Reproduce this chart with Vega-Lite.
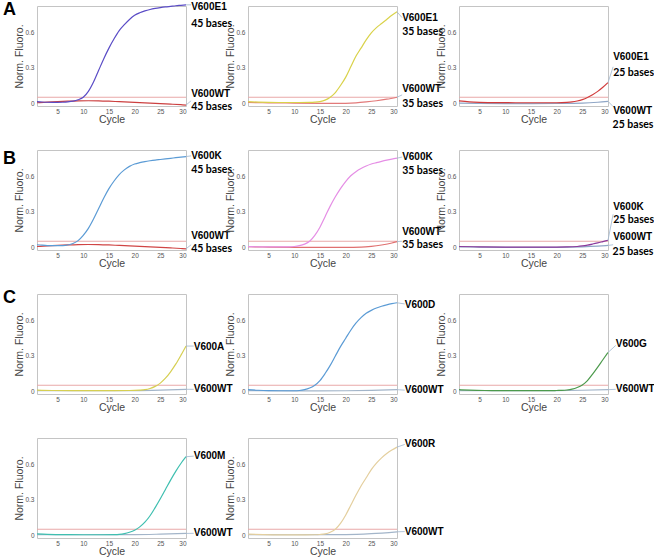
{
"$schema": "https://vega.github.io/schema/vega-lite/v6.json",
"background": "white",
"padding": {"left": 2, "top": 0, "right": 0, "bottom": 0},
"columns": 3,
"spacing": {"row": 44, "column": 62},
"bounds": "flush",
"resolve": {"scale": {"color": "shared"}},
"config": {
 "view": {"stroke": "#c4c4c4", "strokeWidth": 1},
 "axis": {"grid": false, "domain": false, "ticks": false, "labelFont": "Liberation Sans", "labelFontSize": 6.5, "labelColor": "#555", "labelPadding": 3, "titleFont": "Liberation Sans", "titleFontSize": 10.5, "titleFontWeight": "normal", "titleColor": "#444"},
 "axisY": {"titlePadding": 0},
 "axisX": {"labelPadding": 2, "titlePadding": 0},
 "line": {"strokeWidth": 1.2, "interpolate": "monotone"},
 "text": {"align": "left", "baseline": "middle", "color": "#000", "dx": 0}
},
"datasets": {"d": [
{"p":"A1","k":"line","c":"thr","x":1,"y":0.05},{"p":"A1","k":"line","c":"thr","x":30,"y":0.05},
{"p":"A2","k":"line","c":"thr","x":1,"y":0.05},{"p":"A2","k":"line","c":"thr","x":30,"y":0.05},
{"p":"A3","k":"line","c":"thr","x":1,"y":0.05},{"p":"A3","k":"line","c":"thr","x":30,"y":0.05},
{"p":"B1","k":"line","c":"thr","x":1,"y":0.05},{"p":"B1","k":"line","c":"thr","x":30,"y":0.05},
{"p":"B2","k":"line","c":"thr","x":1,"y":0.05},{"p":"B2","k":"line","c":"thr","x":30,"y":0.05},
{"p":"B3","k":"line","c":"thr","x":1,"y":0.05},{"p":"B3","k":"line","c":"thr","x":30,"y":0.05},
{"p":"C1","k":"line","c":"thr","x":1,"y":0.05},{"p":"C1","k":"line","c":"thr","x":30,"y":0.05},
{"p":"C2","k":"line","c":"thr","x":1,"y":0.05},{"p":"C2","k":"line","c":"thr","x":30,"y":0.05},
{"p":"C3","k":"line","c":"thr","x":1,"y":0.05},{"p":"C3","k":"line","c":"thr","x":30,"y":0.05},
{"p":"D1","k":"line","c":"thr","x":1,"y":0.05},{"p":"D1","k":"line","c":"thr","x":30,"y":0.05},
{"p":"D2","k":"line","c":"thr","x":1,"y":0.05},{"p":"D2","k":"line","c":"thr","x":30,"y":0.05},

{"p":"A1","k":"line","c":"A1w","x":1,"y":0.003},{"p":"A1","k":"line","c":"A1w","x":3,"y":0.008},{"p":"A1","k":"line","c":"A1w","x":5,"y":0.012},{"p":"A1","k":"line","c":"A1w","x":7,"y":0.016},{"p":"A1","k":"line","c":"A1w","x":9,"y":0.019},{"p":"A1","k":"line","c":"A1w","x":11,"y":0.02},{"p":"A1","k":"line","c":"A1w","x":13,"y":0.019},{"p":"A1","k":"line","c":"A1w","x":15,"y":0.016},{"p":"A1","k":"line","c":"A1w","x":17,"y":0.012},{"p":"A1","k":"line","c":"A1w","x":19,"y":0.008},{"p":"A1","k":"line","c":"A1w","x":21,"y":0.004},{"p":"A1","k":"line","c":"A1w","x":23,"y":0.0},{"p":"A1","k":"line","c":"A1w","x":25,"y":-0.004},{"p":"A1","k":"line","c":"A1w","x":27,"y":-0.009},{"p":"A1","k":"line","c":"A1w","x":29,"y":-0.014},{"p":"A1","k":"line","c":"A1w","x":30,"y":-0.017},
{"p":"A1","k":"line","c":"A1m","x":1,"y":0.012},{"p":"A1","k":"line","c":"A1m","x":2,"y":0.009},{"p":"A1","k":"line","c":"A1m","x":3,"y":0.007},{"p":"A1","k":"line","c":"A1m","x":4,"y":0.006},{"p":"A1","k":"line","c":"A1m","x":5,"y":0.006},{"p":"A1","k":"line","c":"A1m","x":6,"y":0.007},{"p":"A1","k":"line","c":"A1m","x":7,"y":0.01},{"p":"A1","k":"line","c":"A1m","x":8,"y":0.016},{"p":"A1","k":"line","c":"A1m","x":9,"y":0.028},{"p":"A1","k":"line","c":"A1m","x":10,"y":0.05},{"p":"A1","k":"line","c":"A1m","x":11,"y":0.1},{"p":"A1","k":"line","c":"A1m","x":12,"y":0.18},{"p":"A1","k":"line","c":"A1m","x":13,"y":0.28},{"p":"A1","k":"line","c":"A1m","x":14,"y":0.38},{"p":"A1","k":"line","c":"A1m","x":15,"y":0.47},{"p":"A1","k":"line","c":"A1m","x":16,"y":0.55},{"p":"A1","k":"line","c":"A1m","x":17,"y":0.62},{"p":"A1","k":"line","c":"A1m","x":18,"y":0.67},{"p":"A1","k":"line","c":"A1m","x":19,"y":0.715},{"p":"A1","k":"line","c":"A1m","x":20,"y":0.75},{"p":"A1","k":"line","c":"A1m","x":21,"y":0.772},{"p":"A1","k":"line","c":"A1m","x":22,"y":0.788},{"p":"A1","k":"line","c":"A1m","x":23,"y":0.8},{"p":"A1","k":"line","c":"A1m","x":24,"y":0.809},{"p":"A1","k":"line","c":"A1m","x":25,"y":0.816},{"p":"A1","k":"line","c":"A1m","x":26,"y":0.822},{"p":"A1","k":"line","c":"A1m","x":27,"y":0.827},{"p":"A1","k":"line","c":"A1m","x":28,"y":0.832},{"p":"A1","k":"line","c":"A1m","x":29,"y":0.836},{"p":"A1","k":"line","c":"A1m","x":30,"y":0.84},

{"p":"A2","k":"line","c":"A2w","x":1,"y":0.005},{"p":"A2","k":"line","c":"A2w","x":5,"y":0.002},{"p":"A2","k":"line","c":"A2w","x":10,"y":0.0},{"p":"A2","k":"line","c":"A2w","x":15,"y":-0.002},{"p":"A2","k":"line","c":"A2w","x":18,"y":-0.003},{"p":"A2","k":"line","c":"A2w","x":20,"y":-0.002},{"p":"A2","k":"line","c":"A2w","x":22,"y":0.002},{"p":"A2","k":"line","c":"A2w","x":24,"y":0.01},{"p":"A2","k":"line","c":"A2w","x":26,"y":0.02},{"p":"A2","k":"line","c":"A2w","x":28,"y":0.033},{"p":"A2","k":"line","c":"A2w","x":30,"y":0.05},
{"p":"A2","k":"line","c":"A2m","x":1,"y":0.012},{"p":"A2","k":"line","c":"A2m","x":3,"y":0.008},{"p":"A2","k":"line","c":"A2m","x":5,"y":0.006},{"p":"A2","k":"line","c":"A2m","x":7,"y":0.005},{"p":"A2","k":"line","c":"A2m","x":9,"y":0.005},{"p":"A2","k":"line","c":"A2m","x":11,"y":0.005},{"p":"A2","k":"line","c":"A2m","x":13,"y":0.006},{"p":"A2","k":"line","c":"A2m","x":14,"y":0.008},{"p":"A2","k":"line","c":"A2m","x":15,"y":0.013},{"p":"A2","k":"line","c":"A2m","x":16,"y":0.025},{"p":"A2","k":"line","c":"A2m","x":17,"y":0.05},{"p":"A2","k":"line","c":"A2m","x":18,"y":0.09},{"p":"A2","k":"line","c":"A2m","x":19,"y":0.15},{"p":"A2","k":"line","c":"A2m","x":20,"y":0.22},{"p":"A2","k":"line","c":"A2m","x":21,"y":0.31},{"p":"A2","k":"line","c":"A2m","x":22,"y":0.4},{"p":"A2","k":"line","c":"A2m","x":23,"y":0.47},{"p":"A2","k":"line","c":"A2m","x":24,"y":0.54},{"p":"A2","k":"line","c":"A2m","x":25,"y":0.6},{"p":"A2","k":"line","c":"A2m","x":26,"y":0.645},{"p":"A2","k":"line","c":"A2m","x":27,"y":0.68},{"p":"A2","k":"line","c":"A2m","x":28,"y":0.715},{"p":"A2","k":"line","c":"A2m","x":29,"y":0.75},{"p":"A2","k":"line","c":"A2m","x":30,"y":0.78},

{"p":"A3","k":"line","c":"A3w","x":1,"y":0.0},{"p":"A3","k":"line","c":"A3w","x":5,"y":-0.003},{"p":"A3","k":"line","c":"A3w","x":10,"y":-0.004},{"p":"A3","k":"line","c":"A3w","x":15,"y":-0.004},{"p":"A3","k":"line","c":"A3w","x":20,"y":-0.003},{"p":"A3","k":"line","c":"A3w","x":25,"y":0.0},{"p":"A3","k":"line","c":"A3w","x":28,"y":0.007},{"p":"A3","k":"line","c":"A3w","x":30,"y":0.015},
{"p":"A3","k":"line","c":"A3m","x":1,"y":0.018},{"p":"A3","k":"line","c":"A3m","x":3,"y":0.01},{"p":"A3","k":"line","c":"A3m","x":5,"y":0.006},{"p":"A3","k":"line","c":"A3m","x":8,"y":0.004},{"p":"A3","k":"line","c":"A3m","x":12,"y":0.003},{"p":"A3","k":"line","c":"A3m","x":16,"y":0.003},{"p":"A3","k":"line","c":"A3m","x":20,"y":0.003},{"p":"A3","k":"line","c":"A3m","x":21,"y":0.004},{"p":"A3","k":"line","c":"A3m","x":22,"y":0.006},{"p":"A3","k":"line","c":"A3m","x":23,"y":0.01},{"p":"A3","k":"line","c":"A3m","x":24,"y":0.018},{"p":"A3","k":"line","c":"A3m","x":25,"y":0.03},{"p":"A3","k":"line","c":"A3m","x":26,"y":0.048},{"p":"A3","k":"line","c":"A3m","x":27,"y":0.072},{"p":"A3","k":"line","c":"A3m","x":28,"y":0.1},{"p":"A3","k":"line","c":"A3m","x":29,"y":0.135},{"p":"A3","k":"line","c":"A3m","x":30,"y":0.175},

{"p":"B1","k":"line","c":"B1w","x":1,"y":0.005},{"p":"B1","k":"line","c":"B1w","x":3,"y":0.01},{"p":"B1","k":"line","c":"B1w","x":5,"y":0.014},{"p":"B1","k":"line","c":"B1w","x":7,"y":0.018},{"p":"B1","k":"line","c":"B1w","x":9,"y":0.021},{"p":"B1","k":"line","c":"B1w","x":11,"y":0.022},{"p":"B1","k":"line","c":"B1w","x":13,"y":0.021},{"p":"B1","k":"line","c":"B1w","x":15,"y":0.018},{"p":"B1","k":"line","c":"B1w","x":17,"y":0.014},{"p":"B1","k":"line","c":"B1w","x":19,"y":0.01},{"p":"B1","k":"line","c":"B1w","x":21,"y":0.006},{"p":"B1","k":"line","c":"B1w","x":23,"y":0.002},{"p":"B1","k":"line","c":"B1w","x":25,"y":-0.002},{"p":"B1","k":"line","c":"B1w","x":27,"y":-0.007},{"p":"B1","k":"line","c":"B1w","x":29,"y":-0.012},{"p":"B1","k":"line","c":"B1w","x":30,"y":-0.015},
{"p":"B1","k":"line","c":"B1m","x":1,"y":0.02},{"p":"B1","k":"line","c":"B1m","x":2,"y":0.016},{"p":"B1","k":"line","c":"B1m","x":3,"y":0.013},{"p":"B1","k":"line","c":"B1m","x":4,"y":0.012},{"p":"B1","k":"line","c":"B1m","x":5,"y":0.012},{"p":"B1","k":"line","c":"B1m","x":6,"y":0.013},{"p":"B1","k":"line","c":"B1m","x":7,"y":0.018},{"p":"B1","k":"line","c":"B1m","x":8,"y":0.03},{"p":"B1","k":"line","c":"B1m","x":9,"y":0.055},{"p":"B1","k":"line","c":"B1m","x":10,"y":0.1},{"p":"B1","k":"line","c":"B1m","x":11,"y":0.16},{"p":"B1","k":"line","c":"B1m","x":12,"y":0.24},{"p":"B1","k":"line","c":"B1m","x":13,"y":0.33},{"p":"B1","k":"line","c":"B1m","x":14,"y":0.42},{"p":"B1","k":"line","c":"B1m","x":15,"y":0.5},{"p":"B1","k":"line","c":"B1m","x":16,"y":0.565},{"p":"B1","k":"line","c":"B1m","x":17,"y":0.62},{"p":"B1","k":"line","c":"B1m","x":18,"y":0.66},{"p":"B1","k":"line","c":"B1m","x":19,"y":0.69},{"p":"B1","k":"line","c":"B1m","x":20,"y":0.71},{"p":"B1","k":"line","c":"B1m","x":21,"y":0.722},{"p":"B1","k":"line","c":"B1m","x":22,"y":0.731},{"p":"B1","k":"line","c":"B1m","x":23,"y":0.738},{"p":"B1","k":"line","c":"B1m","x":24,"y":0.744},{"p":"B1","k":"line","c":"B1m","x":25,"y":0.749},{"p":"B1","k":"line","c":"B1m","x":26,"y":0.754},{"p":"B1","k":"line","c":"B1m","x":27,"y":0.759},{"p":"B1","k":"line","c":"B1m","x":28,"y":0.764},{"p":"B1","k":"line","c":"B1m","x":29,"y":0.769},{"p":"B1","k":"line","c":"B1m","x":30,"y":0.774},

{"p":"B2","k":"line","c":"B2w","x":1,"y":0.003},{"p":"B2","k":"line","c":"B2w","x":5,"y":0.0},{"p":"B2","k":"line","c":"B2w","x":10,"y":-0.002},{"p":"B2","k":"line","c":"B2w","x":15,"y":-0.003},{"p":"B2","k":"line","c":"B2w","x":20,"y":-0.003},{"p":"B2","k":"line","c":"B2w","x":23,"y":-0.001},{"p":"B2","k":"line","c":"B2w","x":25,"y":0.006},{"p":"B2","k":"line","c":"B2w","x":27,"y":0.018},{"p":"B2","k":"line","c":"B2w","x":29,"y":0.035},{"p":"B2","k":"line","c":"B2w","x":30,"y":0.047},
{"p":"B2","k":"line","c":"B2m","x":1,"y":0.004},{"p":"B2","k":"line","c":"B2m","x":3,"y":0.002},{"p":"B2","k":"line","c":"B2m","x":5,"y":0.001},{"p":"B2","k":"line","c":"B2m","x":7,"y":0.001},{"p":"B2","k":"line","c":"B2m","x":9,"y":0.002},{"p":"B2","k":"line","c":"B2m","x":10,"y":0.005},{"p":"B2","k":"line","c":"B2m","x":11,"y":0.012},{"p":"B2","k":"line","c":"B2m","x":12,"y":0.025},{"p":"B2","k":"line","c":"B2m","x":13,"y":0.05},{"p":"B2","k":"line","c":"B2m","x":14,"y":0.1},{"p":"B2","k":"line","c":"B2m","x":15,"y":0.17},{"p":"B2","k":"line","c":"B2m","x":16,"y":0.26},{"p":"B2","k":"line","c":"B2m","x":17,"y":0.35},{"p":"B2","k":"line","c":"B2m","x":18,"y":0.43},{"p":"B2","k":"line","c":"B2m","x":19,"y":0.5},{"p":"B2","k":"line","c":"B2m","x":20,"y":0.56},{"p":"B2","k":"line","c":"B2m","x":21,"y":0.61},{"p":"B2","k":"line","c":"B2m","x":22,"y":0.645},{"p":"B2","k":"line","c":"B2m","x":23,"y":0.672},{"p":"B2","k":"line","c":"B2m","x":24,"y":0.693},{"p":"B2","k":"line","c":"B2m","x":25,"y":0.71},{"p":"B2","k":"line","c":"B2m","x":26,"y":0.722},{"p":"B2","k":"line","c":"B2m","x":27,"y":0.733},{"p":"B2","k":"line","c":"B2m","x":28,"y":0.743},{"p":"B2","k":"line","c":"B2m","x":29,"y":0.752},{"p":"B2","k":"line","c":"B2m","x":30,"y":0.76},

{"p":"B3","k":"line","c":"B3w","x":1,"y":0.002},{"p":"B3","k":"line","c":"B3w","x":5,"y":0.0},{"p":"B3","k":"line","c":"B3w","x":10,"y":-0.002},{"p":"B3","k":"line","c":"B3w","x":15,"y":-0.002},{"p":"B3","k":"line","c":"B3w","x":20,"y":-0.002},{"p":"B3","k":"line","c":"B3w","x":25,"y":0.002},{"p":"B3","k":"line","c":"B3w","x":28,"y":0.008},{"p":"B3","k":"line","c":"B3w","x":30,"y":0.014},
{"p":"B3","k":"line","c":"B3m","x":1,"y":0.005},{"p":"B3","k":"line","c":"B3m","x":5,"y":0.002},{"p":"B3","k":"line","c":"B3m","x":10,"y":0.0},{"p":"B3","k":"line","c":"B3m","x":15,"y":0.0},{"p":"B3","k":"line","c":"B3m","x":20,"y":0.0},{"p":"B3","k":"line","c":"B3m","x":22,"y":0.001},{"p":"B3","k":"line","c":"B3m","x":24,"y":0.005},{"p":"B3","k":"line","c":"B3m","x":25,"y":0.01},{"p":"B3","k":"line","c":"B3m","x":26,"y":0.017},{"p":"B3","k":"line","c":"B3m","x":27,"y":0.026},{"p":"B3","k":"line","c":"B3m","x":28,"y":0.036},{"p":"B3","k":"line","c":"B3m","x":29,"y":0.047},{"p":"B3","k":"line","c":"B3m","x":30,"y":0.058},

{"p":"C1","k":"line","c":"C1w","x":1,"y":0.004},{"p":"C1","k":"line","c":"C1w","x":10,"y":0.003},{"p":"C1","k":"line","c":"C1w","x":20,"y":0.004},{"p":"C1","k":"line","c":"C1w","x":25,"y":0.008},{"p":"C1","k":"line","c":"C1w","x":30,"y":0.015},
{"p":"C1","k":"line","c":"C1m","x":1,"y":0.008},{"p":"C1","k":"line","c":"C1m","x":4,"y":0.005},{"p":"C1","k":"line","c":"C1m","x":8,"y":0.004},{"p":"C1","k":"line","c":"C1m","x":12,"y":0.004},{"p":"C1","k":"line","c":"C1m","x":16,"y":0.004},{"p":"C1","k":"line","c":"C1m","x":19,"y":0.005},{"p":"C1","k":"line","c":"C1m","x":20,"y":0.006},{"p":"C1","k":"line","c":"C1m","x":21,"y":0.008},{"p":"C1","k":"line","c":"C1m","x":22,"y":0.012},{"p":"C1","k":"line","c":"C1m","x":23,"y":0.022},{"p":"C1","k":"line","c":"C1m","x":24,"y":0.04},{"p":"C1","k":"line","c":"C1m","x":25,"y":0.068},{"p":"C1","k":"line","c":"C1m","x":26,"y":0.11},{"p":"C1","k":"line","c":"C1m","x":27,"y":0.165},{"p":"C1","k":"line","c":"C1m","x":28,"y":0.23},{"p":"C1","k":"line","c":"C1m","x":29,"y":0.305},{"p":"C1","k":"line","c":"C1m","x":30,"y":0.385},

{"p":"C2","k":"line","c":"C2w","x":1,"y":0.004},{"p":"C2","k":"line","c":"C2w","x":10,"y":0.002},{"p":"C2","k":"line","c":"C2w","x":20,"y":0.003},{"p":"C2","k":"line","c":"C2w","x":25,"y":0.006},{"p":"C2","k":"line","c":"C2w","x":30,"y":0.012},
{"p":"C2","k":"line","c":"C2m","x":1,"y":0.012},{"p":"C2","k":"line","c":"C2m","x":3,"y":0.007},{"p":"C2","k":"line","c":"C2m","x":5,"y":0.004},{"p":"C2","k":"line","c":"C2m","x":7,"y":0.003},{"p":"C2","k":"line","c":"C2m","x":10,"y":0.003},{"p":"C2","k":"line","c":"C2m","x":11,"y":0.005},{"p":"C2","k":"line","c":"C2m","x":12,"y":0.012},{"p":"C2","k":"line","c":"C2m","x":13,"y":0.026},{"p":"C2","k":"line","c":"C2m","x":14,"y":0.05},{"p":"C2","k":"line","c":"C2m","x":15,"y":0.09},{"p":"C2","k":"line","c":"C2m","x":16,"y":0.15},{"p":"C2","k":"line","c":"C2m","x":17,"y":0.22},{"p":"C2","k":"line","c":"C2m","x":18,"y":0.3},{"p":"C2","k":"line","c":"C2m","x":19,"y":0.38},{"p":"C2","k":"line","c":"C2m","x":20,"y":0.45},{"p":"C2","k":"line","c":"C2m","x":21,"y":0.52},{"p":"C2","k":"line","c":"C2m","x":22,"y":0.58},{"p":"C2","k":"line","c":"C2m","x":23,"y":0.628},{"p":"C2","k":"line","c":"C2m","x":24,"y":0.665},{"p":"C2","k":"line","c":"C2m","x":25,"y":0.69},{"p":"C2","k":"line","c":"C2m","x":26,"y":0.71},{"p":"C2","k":"line","c":"C2m","x":27,"y":0.725},{"p":"C2","k":"line","c":"C2m","x":28,"y":0.737},{"p":"C2","k":"line","c":"C2m","x":29,"y":0.747},{"p":"C2","k":"line","c":"C2m","x":30,"y":0.755},

{"p":"C3","k":"line","c":"C3w","x":1,"y":0.004},{"p":"C3","k":"line","c":"C3w","x":10,"y":0.003},{"p":"C3","k":"line","c":"C3w","x":20,"y":0.004},{"p":"C3","k":"line","c":"C3w","x":25,"y":0.007},{"p":"C3","k":"line","c":"C3w","x":30,"y":0.012},
{"p":"C3","k":"line","c":"C3m","x":1,"y":0.012},{"p":"C3","k":"line","c":"C3m","x":3,"y":0.008},{"p":"C3","k":"line","c":"C3m","x":6,"y":0.005},{"p":"C3","k":"line","c":"C3m","x":10,"y":0.004},{"p":"C3","k":"line","c":"C3m","x":15,"y":0.004},{"p":"C3","k":"line","c":"C3m","x":19,"y":0.004},{"p":"C3","k":"line","c":"C3m","x":20,"y":0.005},{"p":"C3","k":"line","c":"C3m","x":21,"y":0.006},{"p":"C3","k":"line","c":"C3m","x":22,"y":0.009},{"p":"C3","k":"line","c":"C3m","x":23,"y":0.016},{"p":"C3","k":"line","c":"C3m","x":24,"y":0.03},{"p":"C3","k":"line","c":"C3m","x":25,"y":0.052},{"p":"C3","k":"line","c":"C3m","x":26,"y":0.09},{"p":"C3","k":"line","c":"C3m","x":27,"y":0.145},{"p":"C3","k":"line","c":"C3m","x":28,"y":0.205},{"p":"C3","k":"line","c":"C3m","x":29,"y":0.268},{"p":"C3","k":"line","c":"C3m","x":30,"y":0.33},

{"p":"D1","k":"line","c":"D1w","x":1,"y":0.004},{"p":"D1","k":"line","c":"D1w","x":10,"y":0.003},{"p":"D1","k":"line","c":"D1w","x":20,"y":0.004},{"p":"D1","k":"line","c":"D1w","x":25,"y":0.008},{"p":"D1","k":"line","c":"D1w","x":30,"y":0.014},
{"p":"D1","k":"line","c":"D1m","x":1,"y":0.01},{"p":"D1","k":"line","c":"D1m","x":3,"y":0.006},{"p":"D1","k":"line","c":"D1m","x":6,"y":0.004},{"p":"D1","k":"line","c":"D1m","x":10,"y":0.003},{"p":"D1","k":"line","c":"D1m","x":14,"y":0.003},{"p":"D1","k":"line","c":"D1m","x":16,"y":0.004},{"p":"D1","k":"line","c":"D1m","x":17,"y":0.006},{"p":"D1","k":"line","c":"D1m","x":18,"y":0.012},{"p":"D1","k":"line","c":"D1m","x":19,"y":0.024},{"p":"D1","k":"line","c":"D1m","x":20,"y":0.042},{"p":"D1","k":"line","c":"D1m","x":21,"y":0.07},{"p":"D1","k":"line","c":"D1m","x":22,"y":0.11},{"p":"D1","k":"line","c":"D1m","x":23,"y":0.165},{"p":"D1","k":"line","c":"D1m","x":24,"y":0.235},{"p":"D1","k":"line","c":"D1m","x":25,"y":0.31},{"p":"D1","k":"line","c":"D1m","x":26,"y":0.39},{"p":"D1","k":"line","c":"D1m","x":27,"y":0.47},{"p":"D1","k":"line","c":"D1m","x":28,"y":0.545},{"p":"D1","k":"line","c":"D1m","x":29,"y":0.612},{"p":"D1","k":"line","c":"D1m","x":30,"y":0.67},

{"p":"D2","k":"line","c":"D2w","x":1,"y":0.004},{"p":"D2","k":"line","c":"D2w","x":10,"y":0.003},{"p":"D2","k":"line","c":"D2w","x":20,"y":0.004},{"p":"D2","k":"line","c":"D2w","x":25,"y":0.012},{"p":"D2","k":"line","c":"D2w","x":30,"y":0.028},
{"p":"D2","k":"line","c":"D2m","x":1,"y":0.008},{"p":"D2","k":"line","c":"D2m","x":4,"y":0.004},{"p":"D2","k":"line","c":"D2m","x":8,"y":0.002},{"p":"D2","k":"line","c":"D2m","x":12,"y":0.002},{"p":"D2","k":"line","c":"D2m","x":14,"y":0.003},{"p":"D2","k":"line","c":"D2m","x":15,"y":0.005},{"p":"D2","k":"line","c":"D2m","x":16,"y":0.01},{"p":"D2","k":"line","c":"D2m","x":17,"y":0.024},{"p":"D2","k":"line","c":"D2m","x":18,"y":0.05},{"p":"D2","k":"line","c":"D2m","x":19,"y":0.1},{"p":"D2","k":"line","c":"D2m","x":20,"y":0.17},{"p":"D2","k":"line","c":"D2m","x":21,"y":0.255},{"p":"D2","k":"line","c":"D2m","x":22,"y":0.34},{"p":"D2","k":"line","c":"D2m","x":23,"y":0.42},{"p":"D2","k":"line","c":"D2m","x":24,"y":0.49},{"p":"D2","k":"line","c":"D2m","x":25,"y":0.56},{"p":"D2","k":"line","c":"D2m","x":26,"y":0.615},{"p":"D2","k":"line","c":"D2m","x":27,"y":0.66},{"p":"D2","k":"line","c":"D2m","x":28,"y":0.697},{"p":"D2","k":"line","c":"D2m","x":29,"y":0.727},{"p":"D2","k":"line","c":"D2m","x":30,"y":0.752},

{"p":"A1","k":"lead","c":"a","x":30,"y":0.84},{"p":"A1","k":"lead","c":"a","x":31,"y":0.84},{"p":"A1","k":"lead","c":"b","x":30,"y":-0.017},{"p":"A1","k":"lead","c":"b","x":31,"y":0.02},
{"p":"A2","k":"lead","c":"a","x":30,"y":0.78},{"p":"A2","k":"lead","c":"a","x":31,"y":0.73},{"p":"A2","k":"lead","c":"b","x":30,"y":0.05},{"p":"A2","k":"lead","c":"b","x":31,"y":0.07},
{"p":"A3","k":"lead","c":"a","x":30,"y":0.175},{"p":"A3","k":"lead","c":"a","x":31,"y":0.31},{"p":"A3","k":"lead","c":"b","x":30,"y":0.015},{"p":"A3","k":"lead","c":"b","x":31,"y":-0.03},
{"p":"B1","k":"lead","c":"a","x":30,"y":0.774},{"p":"B1","k":"lead","c":"a","x":31,"y":0.78},{"p":"B1","k":"lead","c":"b","x":30,"y":-0.015},{"p":"B1","k":"lead","c":"b","x":31,"y":0.02},
{"p":"B2","k":"lead","c":"a","x":30,"y":0.76},{"p":"B2","k":"lead","c":"a","x":31,"y":0.77},{"p":"B2","k":"lead","c":"b","x":30,"y":0.047},{"p":"B2","k":"lead","c":"b","x":31,"y":0.05},
{"p":"B3","k":"lead","c":"a","x":30,"y":0.058},{"p":"B3","k":"lead","c":"a","x":31,"y":0.28},{"p":"B3","k":"lead","c":"b","x":30,"y":0.014},{"p":"B3","k":"lead","c":"b","x":31,"y":0.02},
{"p":"C1","k":"lead","c":"a","x":30,"y":0.385},{"p":"C1","k":"lead","c":"a","x":31.5,"y":0.385},{"p":"C1","k":"lead","c":"b","x":30,"y":0.015},{"p":"C1","k":"lead","c":"b","x":31.5,"y":0.015},
{"p":"C2","k":"lead","c":"a","x":30,"y":0.755},{"p":"C2","k":"lead","c":"a","x":31.5,"y":0.745},{"p":"C2","k":"lead","c":"b","x":30,"y":0.012},{"p":"C2","k":"lead","c":"b","x":31.5,"y":0.008},
{"p":"C3","k":"lead","c":"a","x":30,"y":0.33},{"p":"C3","k":"lead","c":"a","x":31.5,"y":0.39},{"p":"C3","k":"lead","c":"b","x":30,"y":0.012},{"p":"C3","k":"lead","c":"b","x":31.5,"y":0.015},
{"p":"D1","k":"lead","c":"a","x":30,"y":0.67},{"p":"D1","k":"lead","c":"a","x":31.5,"y":0.675},{"p":"D1","k":"lead","c":"b","x":30,"y":0.014},{"p":"D1","k":"lead","c":"b","x":31.5,"y":0.015},
{"p":"D2","k":"lead","c":"a","x":30,"y":0.752},{"p":"D2","k":"lead","c":"a","x":31.5,"y":0.775},{"p":"D2","k":"lead","c":"b","x":30,"y":0.028},{"p":"D2","k":"lead","c":"b","x":31.5,"y":0.03},

{"p":"A1","k":"name","x":31,"y":0.82,"t":"V600E1"},{"p":"A1","k":"bases","x":31,"y":0.68,"t":"45 bases"},{"p":"A1","k":"name","x":31,"y":0.08,"t":"V600WT"},{"p":"A1","k":"bases","x":31,"y":-0.036,"t":"45 bases"},
{"p":"A2","k":"name","x":31,"y":0.73,"t":"V600E1"},{"p":"A2","k":"bases","x":31,"y":0.61,"t":"35 bases"},{"p":"A2","k":"name","x":31,"y":0.12,"t":"V600WT"},{"p":"A2","k":"bases","x":31,"y":-0.01,"t":"35 bases"},
{"p":"A3","k":"name","x":31,"y":0.39,"t":"V600E1"},{"p":"A3","k":"bases","x":31,"y":0.26,"t":"25 bases"},{"p":"A3","k":"name","x":31,"y":-0.065,"t":"V600WT"},{"p":"A3","k":"bases","x":30.9,"y":-0.19,"t":"25 bases"},
{"p":"B1","k":"name","x":31,"y":0.78,"t":"V600K"},{"p":"B1","k":"bases","x":31,"y":0.66,"t":"45 bases"},{"p":"B1","k":"name","x":31,"y":0.093,"t":"V600WT"},{"p":"B1","k":"bases","x":31,"y":-0.02,"t":"45 bases"},
{"p":"B2","k":"name","x":31,"y":0.77,"t":"V600K"},{"p":"B2","k":"bases","x":31,"y":0.65,"t":"35 bases"},{"p":"B2","k":"name","x":31,"y":0.125,"t":"V600WT"},{"p":"B2","k":"bases","x":31,"y":0.014,"t":"35 bases"},
{"p":"B3","k":"name","x":31,"y":0.34,"t":"V600K"},{"p":"B3","k":"bases","x":31,"y":0.23,"t":"25 bases"},{"p":"B3","k":"name","x":31,"y":0.09,"t":"V600WT"},{"p":"B3","k":"bases","x":30.9,"y":-0.04,"t":"25 bases"},
{"p":"C1","k":"name","x":31.5,"y":0.38,"t":"V600A"},{"p":"C1","k":"name","x":31.5,"y":0.015,"t":"V600WT"},
{"p":"C2","k":"name","x":31.5,"y":0.74,"t":"V600D"},{"p":"C2","k":"name","x":31.5,"y":0.006,"t":"V600WT"},
{"p":"C3","k":"name","x":31.5,"y":0.4,"t":"V600G"},{"p":"C3","k":"name","x":31.5,"y":0.015,"t":"V600WT"},
{"p":"D1","k":"name","x":31.5,"y":0.675,"t":"V600M"},{"p":"D1","k":"name","x":31.5,"y":0.015,"t":"V600WT"},
{"p":"D2","k":"name","x":31.5,"y":0.775,"t":"V600R"},{"p":"D2","k":"name","x":31.5,"y":0.03,"t":"V600WT"}
]},
"concat": [
{"title": {"text": "A", "anchor": "start", "frame": "group", "orient": "top", "baseline": "top", "offset": 0, "dx": -34, "dy": 17, "fontSize": 18, "font": "Liberation Sans", "fontWeight": "bold", "color": "#000"},
 "width": 149, "height": 100, "data": {"name": "d"}, "transform": [{"filter": "datum.p == 'A1'"}],
 "encoding": {"x": {"field": "x", "type": "quantitative", "scale": {"domain": [1, 30]}, "axis": {"values": [5,10,15,20,25,30], "title": "Cycle"}}, "y": {"field": "y", "type": "quantitative", "scale": {"domain": [-0.025, 0.83]}, "axis": {"values": [0, 0.3, 0.6], "format": "~g", "title": "Norm. Fluoro."}}},
 "layer": [
  {"transform": [{"filter": "datum.k == 'line'"}], "mark": "line", "encoding": {"color": {"field": "c", "type": "nominal", "legend": null, "scale": {"domain": ["thr","A1m","A1w","A2m","A2w","A3m","A3w","B1m","B1w","B2m","B2w","B3m","B3w","C1m","C1w","C2m","C2w","C3m","C3w","D1m","D1w","D2m","D2w"], "range": ["#e9a9a9","#5a4cc6","#cc4040","#d9d24a","#e27a7a","#d23c3c","#8fa6c6","#5b9bd5","#d04545","#e58ee5","#e07070","#8b3a9c","#8fa6c6","#d6cf52","#a3b5c9","#5b9bd5","#a3b5c9","#4c9a4c","#a3b5c9","#3fbfb0","#a3b5c9","#e4cf9e","#a3b5c9"]}}}},
  {"transform": [{"filter": "datum.k == 'lead'"}], "mark": {"type": "line", "color": "#9fb6cf", "strokeWidth": 0.8, "interpolate": "linear"}, "encoding": {"detail": {"field": "c"}}},
  {"transform": [{"filter": "datum.k == 'name'"}], "mark": {"type": "text", "font": "Liberation Sans, Arial, sans-serif", "fontWeight": "bold", "fontSize": 10}, "encoding": {"text": {"field": "t"}}},
  {"transform": [{"filter": "datum.k == 'bases'"}], "mark": {"type": "text", "font": "Lato, Open Sans, Liberation Sans, sans-serif", "fontWeight": "bold", "fontSize": 10.5}, "encoding": {"text": {"field": "t"}}}
 ]},
{"width": 149, "height": 100, "data": {"name": "d"}, "transform": [{"filter": "datum.p == 'A2'"}],
 "encoding": {"x": {"field": "x", "type": "quantitative", "scale": {"domain": [1, 30]}, "axis": {"values": [5,10,15,20,25,30], "title": "Cycle"}}, "y": {"field": "y", "type": "quantitative", "scale": {"domain": [-0.025, 0.83]}, "axis": {"values": [0, 0.3, 0.6], "format": "~g", "title": "Norm. Fluoro."}}},
 "layer": [
  {"transform": [{"filter": "datum.k == 'line'"}], "mark": "line", "encoding": {"color": {"field": "c", "type": "nominal", "legend": null, "scale": {"domain": ["thr","A1m","A1w","A2m","A2w","A3m","A3w","B1m","B1w","B2m","B2w","B3m","B3w","C1m","C1w","C2m","C2w","C3m","C3w","D1m","D1w","D2m","D2w"], "range": ["#e9a9a9","#5a4cc6","#cc4040","#d9d24a","#e27a7a","#d23c3c","#8fa6c6","#5b9bd5","#d04545","#e58ee5","#e07070","#8b3a9c","#8fa6c6","#d6cf52","#a3b5c9","#5b9bd5","#a3b5c9","#4c9a4c","#a3b5c9","#3fbfb0","#a3b5c9","#e4cf9e","#a3b5c9"]}}}},
  {"transform": [{"filter": "datum.k == 'lead'"}], "mark": {"type": "line", "color": "#9fb6cf", "strokeWidth": 0.8, "interpolate": "linear"}, "encoding": {"detail": {"field": "c"}}},
  {"transform": [{"filter": "datum.k == 'name'"}], "mark": {"type": "text", "font": "Liberation Sans, Arial, sans-serif", "fontWeight": "bold", "fontSize": 10}, "encoding": {"text": {"field": "t"}}},
  {"transform": [{"filter": "datum.k == 'bases'"}], "mark": {"type": "text", "font": "Lato, Open Sans, Liberation Sans, sans-serif", "fontWeight": "bold", "fontSize": 10.5}, "encoding": {"text": {"field": "t"}}}
 ]},
{"width": 149, "height": 100, "data": {"name": "d"}, "transform": [{"filter": "datum.p == 'A3'"}],
 "encoding": {"x": {"field": "x", "type": "quantitative", "scale": {"domain": [1, 30]}, "axis": {"values": [5,10,15,20,25,30], "title": "Cycle"}}, "y": {"field": "y", "type": "quantitative", "scale": {"domain": [-0.025, 0.83]}, "axis": {"values": [0, 0.3, 0.6], "format": "~g", "title": "Norm. Fluoro."}}},
 "layer": [
  {"transform": [{"filter": "datum.k == 'line'"}], "mark": "line", "encoding": {"color": {"field": "c", "type": "nominal", "legend": null, "scale": {"domain": ["thr","A1m","A1w","A2m","A2w","A3m","A3w","B1m","B1w","B2m","B2w","B3m","B3w","C1m","C1w","C2m","C2w","C3m","C3w","D1m","D1w","D2m","D2w"], "range": ["#e9a9a9","#5a4cc6","#cc4040","#d9d24a","#e27a7a","#d23c3c","#8fa6c6","#5b9bd5","#d04545","#e58ee5","#e07070","#8b3a9c","#8fa6c6","#d6cf52","#a3b5c9","#5b9bd5","#a3b5c9","#4c9a4c","#a3b5c9","#3fbfb0","#a3b5c9","#e4cf9e","#a3b5c9"]}}}},
  {"transform": [{"filter": "datum.k == 'lead'"}], "mark": {"type": "line", "color": "#9fb6cf", "strokeWidth": 0.8, "interpolate": "linear"}, "encoding": {"detail": {"field": "c"}}},
  {"transform": [{"filter": "datum.k == 'name'"}], "mark": {"type": "text", "font": "Liberation Sans, Arial, sans-serif", "fontWeight": "bold", "fontSize": 10}, "encoding": {"text": {"field": "t"}}},
  {"transform": [{"filter": "datum.k == 'bases'"}], "mark": {"type": "text", "font": "Lato, Open Sans, Liberation Sans, sans-serif", "fontWeight": "bold", "fontSize": 10.5}, "encoding": {"text": {"field": "t"}}}
 ]},
{"title": {"text": "B", "anchor": "start", "frame": "group", "orient": "top", "baseline": "top", "offset": 0, "dx": -34, "dy": 18, "fontSize": 18, "font": "Liberation Sans", "fontWeight": "bold", "color": "#000"},
 "width": 149, "height": 100, "data": {"name": "d"}, "transform": [{"filter": "datum.p == 'B1'"}],
 "encoding": {"x": {"field": "x", "type": "quantitative", "scale": {"domain": [1, 30]}, "axis": {"values": [5,10,15,20,25,30], "title": "Cycle"}}, "y": {"field": "y", "type": "quantitative", "scale": {"domain": [-0.025, 0.83]}, "axis": {"values": [0, 0.3, 0.6], "format": "~g", "title": "Norm. Fluoro."}}},
 "layer": [
  {"transform": [{"filter": "datum.k == 'line'"}], "mark": "line", "encoding": {"color": {"field": "c", "type": "nominal", "legend": null, "scale": {"domain": ["thr","A1m","A1w","A2m","A2w","A3m","A3w","B1m","B1w","B2m","B2w","B3m","B3w","C1m","C1w","C2m","C2w","C3m","C3w","D1m","D1w","D2m","D2w"], "range": ["#e9a9a9","#5a4cc6","#cc4040","#d9d24a","#e27a7a","#d23c3c","#8fa6c6","#5b9bd5","#d04545","#e58ee5","#e07070","#8b3a9c","#8fa6c6","#d6cf52","#a3b5c9","#5b9bd5","#a3b5c9","#4c9a4c","#a3b5c9","#3fbfb0","#a3b5c9","#e4cf9e","#a3b5c9"]}}}},
  {"transform": [{"filter": "datum.k == 'lead'"}], "mark": {"type": "line", "color": "#9fb6cf", "strokeWidth": 0.8, "interpolate": "linear"}, "encoding": {"detail": {"field": "c"}}},
  {"transform": [{"filter": "datum.k == 'name'"}], "mark": {"type": "text", "font": "Liberation Sans, Arial, sans-serif", "fontWeight": "bold", "fontSize": 10}, "encoding": {"text": {"field": "t"}}},
  {"transform": [{"filter": "datum.k == 'bases'"}], "mark": {"type": "text", "font": "Lato, Open Sans, Liberation Sans, sans-serif", "fontWeight": "bold", "fontSize": 10.5}, "encoding": {"text": {"field": "t"}}}
 ]},
{"width": 149, "height": 100, "data": {"name": "d"}, "transform": [{"filter": "datum.p == 'B2'"}],
 "encoding": {"x": {"field": "x", "type": "quantitative", "scale": {"domain": [1, 30]}, "axis": {"values": [5,10,15,20,25,30], "title": "Cycle"}}, "y": {"field": "y", "type": "quantitative", "scale": {"domain": [-0.025, 0.83]}, "axis": {"values": [0, 0.3, 0.6], "format": "~g", "title": "Norm. Fluoro."}}},
 "layer": [
  {"transform": [{"filter": "datum.k == 'line'"}], "mark": "line", "encoding": {"color": {"field": "c", "type": "nominal", "legend": null, "scale": {"domain": ["thr","A1m","A1w","A2m","A2w","A3m","A3w","B1m","B1w","B2m","B2w","B3m","B3w","C1m","C1w","C2m","C2w","C3m","C3w","D1m","D1w","D2m","D2w"], "range": ["#e9a9a9","#5a4cc6","#cc4040","#d9d24a","#e27a7a","#d23c3c","#8fa6c6","#5b9bd5","#d04545","#e58ee5","#e07070","#8b3a9c","#8fa6c6","#d6cf52","#a3b5c9","#5b9bd5","#a3b5c9","#4c9a4c","#a3b5c9","#3fbfb0","#a3b5c9","#e4cf9e","#a3b5c9"]}}}},
  {"transform": [{"filter": "datum.k == 'lead'"}], "mark": {"type": "line", "color": "#9fb6cf", "strokeWidth": 0.8, "interpolate": "linear"}, "encoding": {"detail": {"field": "c"}}},
  {"transform": [{"filter": "datum.k == 'name'"}], "mark": {"type": "text", "font": "Liberation Sans, Arial, sans-serif", "fontWeight": "bold", "fontSize": 10}, "encoding": {"text": {"field": "t"}}},
  {"transform": [{"filter": "datum.k == 'bases'"}], "mark": {"type": "text", "font": "Lato, Open Sans, Liberation Sans, sans-serif", "fontWeight": "bold", "fontSize": 10.5}, "encoding": {"text": {"field": "t"}}}
 ]},
{"width": 149, "height": 100, "data": {"name": "d"}, "transform": [{"filter": "datum.p == 'B3'"}],
 "encoding": {"x": {"field": "x", "type": "quantitative", "scale": {"domain": [1, 30]}, "axis": {"values": [5,10,15,20,25,30], "title": "Cycle"}}, "y": {"field": "y", "type": "quantitative", "scale": {"domain": [-0.025, 0.83]}, "axis": {"values": [0, 0.3, 0.6], "format": "~g", "title": "Norm. Fluoro."}}},
 "layer": [
  {"transform": [{"filter": "datum.k == 'line'"}], "mark": "line", "encoding": {"color": {"field": "c", "type": "nominal", "legend": null, "scale": {"domain": ["thr","A1m","A1w","A2m","A2w","A3m","A3w","B1m","B1w","B2m","B2w","B3m","B3w","C1m","C1w","C2m","C2w","C3m","C3w","D1m","D1w","D2m","D2w"], "range": ["#e9a9a9","#5a4cc6","#cc4040","#d9d24a","#e27a7a","#d23c3c","#8fa6c6","#5b9bd5","#d04545","#e58ee5","#e07070","#8b3a9c","#8fa6c6","#d6cf52","#a3b5c9","#5b9bd5","#a3b5c9","#4c9a4c","#a3b5c9","#3fbfb0","#a3b5c9","#e4cf9e","#a3b5c9"]}}}},
  {"transform": [{"filter": "datum.k == 'lead'"}], "mark": {"type": "line", "color": "#9fb6cf", "strokeWidth": 0.8, "interpolate": "linear"}, "encoding": {"detail": {"field": "c"}}},
  {"transform": [{"filter": "datum.k == 'name'"}], "mark": {"type": "text", "font": "Liberation Sans, Arial, sans-serif", "fontWeight": "bold", "fontSize": 10}, "encoding": {"text": {"field": "t"}}},
  {"transform": [{"filter": "datum.k == 'bases'"}], "mark": {"type": "text", "font": "Lato, Open Sans, Liberation Sans, sans-serif", "fontWeight": "bold", "fontSize": 10.5}, "encoding": {"text": {"field": "t"}}}
 ]},
{"title": {"text": "C", "anchor": "start", "frame": "group", "orient": "top", "baseline": "top", "offset": 0, "dx": -34, "dy": 13, "fontSize": 18, "font": "Liberation Sans", "fontWeight": "bold", "color": "#000"},
 "width": 149, "height": 100, "data": {"name": "d"}, "transform": [{"filter": "datum.p == 'C1'"}],
 "encoding": {"x": {"field": "x", "type": "quantitative", "scale": {"domain": [1, 30]}, "axis": {"values": [5,10,15,20,25,30], "title": "Cycle"}}, "y": {"field": "y", "type": "quantitative", "scale": {"domain": [-0.025, 0.83]}, "axis": {"values": [0, 0.3, 0.6], "format": "~g", "title": "Norm. Fluoro."}}},
 "layer": [
  {"transform": [{"filter": "datum.k == 'line'"}], "mark": "line", "encoding": {"color": {"field": "c", "type": "nominal", "legend": null, "scale": {"domain": ["thr","A1m","A1w","A2m","A2w","A3m","A3w","B1m","B1w","B2m","B2w","B3m","B3w","C1m","C1w","C2m","C2w","C3m","C3w","D1m","D1w","D2m","D2w"], "range": ["#e9a9a9","#5a4cc6","#cc4040","#d9d24a","#e27a7a","#d23c3c","#8fa6c6","#5b9bd5","#d04545","#e58ee5","#e07070","#8b3a9c","#8fa6c6","#d6cf52","#a3b5c9","#5b9bd5","#a3b5c9","#4c9a4c","#a3b5c9","#3fbfb0","#a3b5c9","#e4cf9e","#a3b5c9"]}}}},
  {"transform": [{"filter": "datum.k == 'lead'"}], "mark": {"type": "line", "color": "#9fb6cf", "strokeWidth": 0.8, "interpolate": "linear"}, "encoding": {"detail": {"field": "c"}}},
  {"transform": [{"filter": "datum.k == 'name'"}], "mark": {"type": "text", "font": "Liberation Sans, Arial, sans-serif", "fontWeight": "bold", "fontSize": 10}, "encoding": {"text": {"field": "t"}}}
 ]},
{"width": 149, "height": 100, "data": {"name": "d"}, "transform": [{"filter": "datum.p == 'C2'"}],
 "encoding": {"x": {"field": "x", "type": "quantitative", "scale": {"domain": [1, 30]}, "axis": {"values": [5,10,15,20,25,30], "title": "Cycle"}}, "y": {"field": "y", "type": "quantitative", "scale": {"domain": [-0.025, 0.83]}, "axis": {"values": [0, 0.3, 0.6], "format": "~g", "title": "Norm. Fluoro."}}},
 "layer": [
  {"transform": [{"filter": "datum.k == 'line'"}], "mark": "line", "encoding": {"color": {"field": "c", "type": "nominal", "legend": null, "scale": {"domain": ["thr","A1m","A1w","A2m","A2w","A3m","A3w","B1m","B1w","B2m","B2w","B3m","B3w","C1m","C1w","C2m","C2w","C3m","C3w","D1m","D1w","D2m","D2w"], "range": ["#e9a9a9","#5a4cc6","#cc4040","#d9d24a","#e27a7a","#d23c3c","#8fa6c6","#5b9bd5","#d04545","#e58ee5","#e07070","#8b3a9c","#8fa6c6","#d6cf52","#a3b5c9","#5b9bd5","#a3b5c9","#4c9a4c","#a3b5c9","#3fbfb0","#a3b5c9","#e4cf9e","#a3b5c9"]}}}},
  {"transform": [{"filter": "datum.k == 'lead'"}], "mark": {"type": "line", "color": "#9fb6cf", "strokeWidth": 0.8, "interpolate": "linear"}, "encoding": {"detail": {"field": "c"}}},
  {"transform": [{"filter": "datum.k == 'name'"}], "mark": {"type": "text", "font": "Liberation Sans, Arial, sans-serif", "fontWeight": "bold", "fontSize": 10}, "encoding": {"text": {"field": "t"}}}
 ]},
{"width": 149, "height": 100, "data": {"name": "d"}, "transform": [{"filter": "datum.p == 'C3'"}],
 "encoding": {"x": {"field": "x", "type": "quantitative", "scale": {"domain": [1, 30]}, "axis": {"values": [5,10,15,20,25,30], "title": "Cycle"}}, "y": {"field": "y", "type": "quantitative", "scale": {"domain": [-0.025, 0.83]}, "axis": {"values": [0, 0.3, 0.6], "format": "~g", "title": "Norm. Fluoro."}}},
 "layer": [
  {"transform": [{"filter": "datum.k == 'line'"}], "mark": "line", "encoding": {"color": {"field": "c", "type": "nominal", "legend": null, "scale": {"domain": ["thr","A1m","A1w","A2m","A2w","A3m","A3w","B1m","B1w","B2m","B2w","B3m","B3w","C1m","C1w","C2m","C2w","C3m","C3w","D1m","D1w","D2m","D2w"], "range": ["#e9a9a9","#5a4cc6","#cc4040","#d9d24a","#e27a7a","#d23c3c","#8fa6c6","#5b9bd5","#d04545","#e58ee5","#e07070","#8b3a9c","#8fa6c6","#d6cf52","#a3b5c9","#5b9bd5","#a3b5c9","#4c9a4c","#a3b5c9","#3fbfb0","#a3b5c9","#e4cf9e","#a3b5c9"]}}}},
  {"transform": [{"filter": "datum.k == 'lead'"}], "mark": {"type": "line", "color": "#9fb6cf", "strokeWidth": 0.8, "interpolate": "linear"}, "encoding": {"detail": {"field": "c"}}},
  {"transform": [{"filter": "datum.k == 'name'"}], "mark": {"type": "text", "font": "Liberation Sans, Arial, sans-serif", "fontWeight": "bold", "fontSize": 10}, "encoding": {"text": {"field": "t"}}}
 ]},
{"width": 149, "height": 100, "data": {"name": "d"}, "transform": [{"filter": "datum.p == 'D1'"}],
 "encoding": {"x": {"field": "x", "type": "quantitative", "scale": {"domain": [1, 30]}, "axis": {"values": [5,10,15,20,25,30], "title": "Cycle"}}, "y": {"field": "y", "type": "quantitative", "scale": {"domain": [-0.025, 0.83]}, "axis": {"values": [0, 0.3, 0.6], "format": "~g", "title": "Norm. Fluoro."}}},
 "layer": [
  {"transform": [{"filter": "datum.k == 'line'"}], "mark": "line", "encoding": {"color": {"field": "c", "type": "nominal", "legend": null, "scale": {"domain": ["thr","A1m","A1w","A2m","A2w","A3m","A3w","B1m","B1w","B2m","B2w","B3m","B3w","C1m","C1w","C2m","C2w","C3m","C3w","D1m","D1w","D2m","D2w"], "range": ["#e9a9a9","#5a4cc6","#cc4040","#d9d24a","#e27a7a","#d23c3c","#8fa6c6","#5b9bd5","#d04545","#e58ee5","#e07070","#8b3a9c","#8fa6c6","#d6cf52","#a3b5c9","#5b9bd5","#a3b5c9","#4c9a4c","#a3b5c9","#3fbfb0","#a3b5c9","#e4cf9e","#a3b5c9"]}}}},
  {"transform": [{"filter": "datum.k == 'lead'"}], "mark": {"type": "line", "color": "#9fb6cf", "strokeWidth": 0.8, "interpolate": "linear"}, "encoding": {"detail": {"field": "c"}}},
  {"transform": [{"filter": "datum.k == 'name'"}], "mark": {"type": "text", "font": "Liberation Sans, Arial, sans-serif", "fontWeight": "bold", "fontSize": 10}, "encoding": {"text": {"field": "t"}}}
 ]},
{"width": 149, "height": 100, "data": {"name": "d"}, "transform": [{"filter": "datum.p == 'D2'"}],
 "encoding": {"x": {"field": "x", "type": "quantitative", "scale": {"domain": [1, 30]}, "axis": {"values": [5,10,15,20,25,30], "title": "Cycle"}}, "y": {"field": "y", "type": "quantitative", "scale": {"domain": [-0.025, 0.83]}, "axis": {"values": [0, 0.3, 0.6], "format": "~g", "title": "Norm. Fluoro."}}},
 "layer": [
  {"transform": [{"filter": "datum.k == 'line'"}], "mark": "line", "encoding": {"color": {"field": "c", "type": "nominal", "legend": null, "scale": {"domain": ["thr","A1m","A1w","A2m","A2w","A3m","A3w","B1m","B1w","B2m","B2w","B3m","B3w","C1m","C1w","C2m","C2w","C3m","C3w","D1m","D1w","D2m","D2w"], "range": ["#e9a9a9","#5a4cc6","#cc4040","#d9d24a","#e27a7a","#d23c3c","#8fa6c6","#5b9bd5","#d04545","#e58ee5","#e07070","#8b3a9c","#8fa6c6","#d6cf52","#a3b5c9","#5b9bd5","#a3b5c9","#4c9a4c","#a3b5c9","#3fbfb0","#a3b5c9","#e4cf9e","#a3b5c9"]}}}},
  {"transform": [{"filter": "datum.k == 'lead'"}], "mark": {"type": "line", "color": "#9fb6cf", "strokeWidth": 0.8, "interpolate": "linear"}, "encoding": {"detail": {"field": "c"}}},
  {"transform": [{"filter": "datum.k == 'name'"}], "mark": {"type": "text", "font": "Liberation Sans, Arial, sans-serif", "fontWeight": "bold", "fontSize": 10}, "encoding": {"text": {"field": "t"}}}
 ]}
]
}
